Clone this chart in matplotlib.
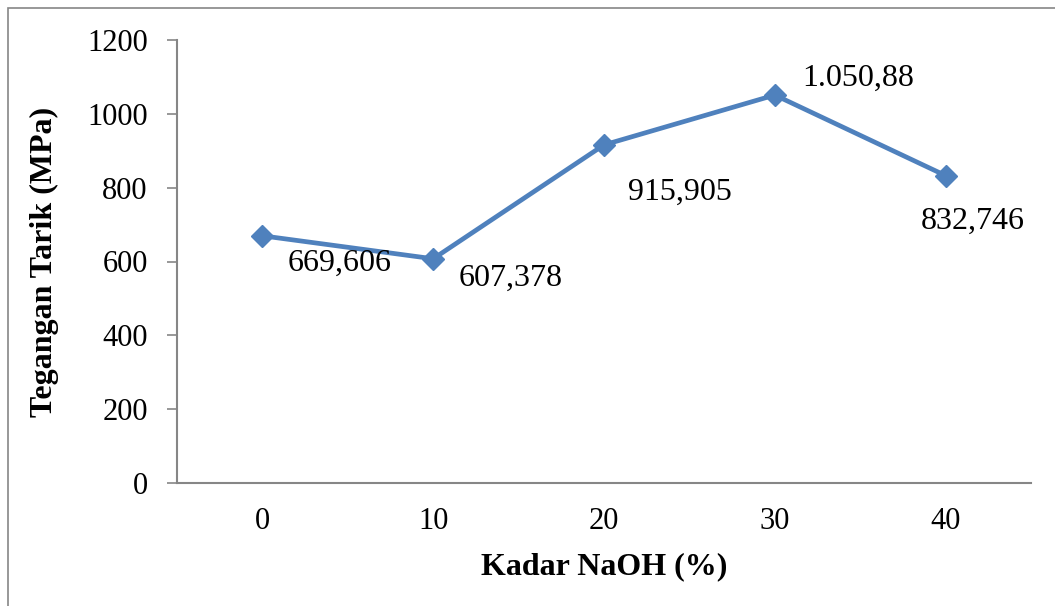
import matplotlib
matplotlib.use("Agg")
import matplotlib.pyplot as plt
from matplotlib.patches import Rectangle

# data
kadar = ["0", "10", "20", "30", "40"]
tegangan = [669.606, 607.378, 915.905, 1050.88, 832.746]
labels = ["669,606", "607,378", "915,905", "1.050,88", "832,746"]
# label offsets in pixels (dx, dy)
offsets = [(77, -28), (77, -20), (76, -47), (83, 17), (27, -46)]
y_ticks = [0, 200, 400, 600, 800, 1000, 1200]

plt.rcParams["font.family"] = ["Liberation Serif", "DejaVu Serif"]

W, H = 1055, 606
fig = plt.figure(figsize=(W / 100, H / 100), dpi=100)
ax = fig.add_axes([177 / W, 1 - 483 / H, (1031 - 177) / W, (483 - 40) / H])

xs = list(range(len(kadar)))
ax.plot(xs, tegangan, color="#4F81BD", lw=3.4, marker="D", ms=11.5,
        markerfacecolor="#4F81BD", markeredgecolor="#4F81BD", solid_joinstyle="round")

for x, y, lab, (dx, dy) in zip(xs, tegangan, labels, offsets):
    ax.annotate(lab, (x, y), xytext=(dx, dy), textcoords="offset pixels",
                ha="center", va="center", fontsize=23)

ax.set_xlim(-0.5, len(kadar) - 0.5)
ax.set_ylim(0, 1200)
ax.set_xticks(xs)
ax.set_xticklabels(kadar)
ax.set_yticks(y_ticks)
ax.tick_params(axis="x", length=0, pad=17, labelsize=22)
ax.tick_params(axis="y", length=7, width=1.2, color="#868686", pad=14, labelsize=22)

for side in ("top", "right"):
    ax.spines[side].set_visible(False)
for side in ("left", "bottom"):
    ax.spines[side].set_color("#868686")
    ax.spines[side].set_linewidth(1.5)

ax.set_xlabel("Kadar NaOH (%)", fontsize=23, fontweight="bold", labelpad=12)
ax.set_ylabel("Tegangan Tarik (MPa)", fontsize=23, fontweight="bold", labelpad=20)

# outer chart border
fig.patches.append(Rectangle((8 / W, -0.1), 1.0, 1.1 - 8 / H, transform=fig.transFigure,
                             fill=False, edgecolor="#868686", lw=1.2, clip_on=False))

fig.savefig("out.png", dpi=100)
